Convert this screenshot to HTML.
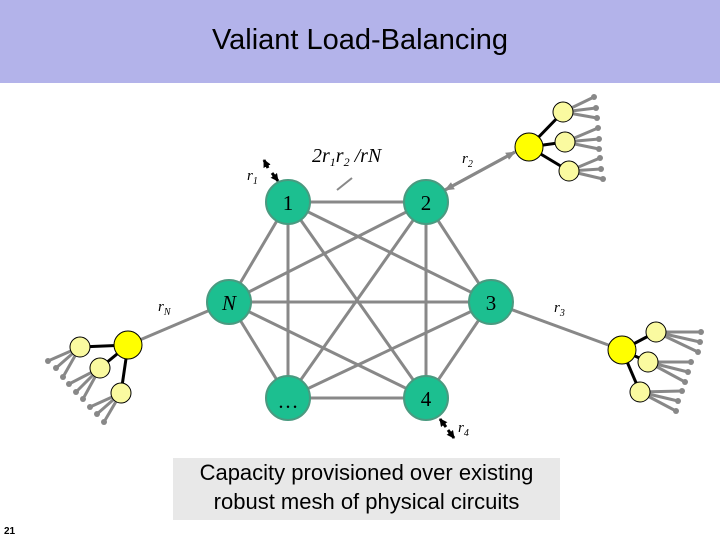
<!DOCTYPE html>
<html><head><meta charset="utf-8"><style>
body{margin:0;width:720px;height:540px;background:#fff;overflow:hidden;position:relative;font-family:"Liberation Sans",sans-serif}
.t{position:absolute;left:0;top:0;width:720px;height:83px;background:#b3b3ea}
.t div{position:absolute;width:720px;top:24px;text-align:center;font-size:29px;color:#000}
.cap{position:absolute;left:173px;top:458px;width:387px;height:62px;background:#e8e8e8;font-size:22px;text-align:center;line-height:29px;color:#000}
.pn{position:absolute;left:4px;top:526px;font-size:10px;font-weight:bold}
</style></head><body>
<div class="t"><div>Valiant Load-Balancing</div></div>
<svg width="720" height="540" style="position:absolute;left:0;top:0">
<defs><marker id="a" markerWidth="8" markerHeight="8" refX="7" refY="4" orient="auto" markerUnits="userSpaceOnUse"><path d="M0,0 L8,4 L0,8z" fill="#000"/></marker>
<marker id="g" markerWidth="10" markerHeight="8" refX="9" refY="4" orient="auto" markerUnits="userSpaceOnUse"><path d="M0,0 L10,4 L0,8z" fill="#888"/></marker></defs>
<g stroke="#888" stroke-width="3" fill="none">
<line x1="288" y1="202" x2="426" y2="202"/><line x1="288" y1="202" x2="229" y2="302"/><line x1="288" y1="202" x2="491" y2="302"/><line x1="288" y1="202" x2="288" y2="398"/><line x1="288" y1="202" x2="426" y2="398"/>
<line x1="426" y1="202" x2="229" y2="302"/><line x1="426" y1="202" x2="491" y2="302"/><line x1="426" y1="202" x2="288" y2="398"/><line x1="426" y1="202" x2="426" y2="398"/>
<line x1="229" y1="302" x2="491" y2="302"/><line x1="229" y1="302" x2="288" y2="398"/><line x1="229" y1="302" x2="426" y2="398"/>
<line x1="491" y1="302" x2="288" y2="398"/><line x1="491" y1="302" x2="426" y2="398"/><line x1="288" y1="398" x2="426" y2="398"/>
<line x1="491" y1="302" x2="622" y2="350"/><line x1="229" y1="302" x2="128" y2="345"/>
<line x1="515" y1="152" x2="445" y2="190" marker-end="url(#g)"/>
<line x1="445" y1="190" x2="515" y2="152" marker-end="url(#g)"/>
</g>
<line x1="337" y1="190" x2="352" y2="178" stroke="#888" stroke-width="2"/>
<line x1="268" y1="168" x2="264" y2="160" stroke="#000" stroke-width="3" marker-end="url(#a)"/>
<line x1="272" y1="173" x2="278" y2="181" stroke="#000" stroke-width="3" marker-end="url(#a)"/>
<line x1="446" y1="427" x2="440" y2="419" stroke="#000" stroke-width="3" marker-end="url(#a)"/>
<line x1="448" y1="430" x2="454" y2="438" stroke="#000" stroke-width="3" marker-end="url(#a)"/>
<g stroke="#888" stroke-width="3">
<line x1="563" y1="112" x2="594" y2="97"/><line x1="563" y1="112" x2="596" y2="108"/><line x1="563" y1="112" x2="597" y2="118"/>
<line x1="565" y1="142" x2="598" y2="128"/><line x1="565" y1="142" x2="599" y2="139"/><line x1="565" y1="142" x2="599" y2="149"/>
<line x1="569" y1="171" x2="600" y2="158"/><line x1="569" y1="171" x2="601" y2="169"/><line x1="569" y1="171" x2="603" y2="179"/>
<line x1="656" y1="332" x2="701" y2="332"/><line x1="656" y1="332" x2="700" y2="342"/><line x1="656" y1="332" x2="698" y2="352"/>
<line x1="648" y1="362" x2="691" y2="362"/><line x1="648" y1="362" x2="688" y2="372"/><line x1="648" y1="362" x2="685" y2="382"/>
<line x1="640" y1="392" x2="682" y2="391"/><line x1="640" y1="392" x2="678" y2="401"/><line x1="640" y1="392" x2="676" y2="411"/>
<line x1="80" y1="347" x2="48" y2="361"/><line x1="80" y1="347" x2="56" y2="368"/><line x1="80" y1="347" x2="63" y2="377"/>
<line x1="100" y1="368" x2="69" y2="384"/><line x1="100" y1="368" x2="76" y2="392"/><line x1="100" y1="368" x2="83" y2="399"/>
<line x1="121" y1="393" x2="90" y2="407"/><line x1="121" y1="393" x2="97" y2="414"/><line x1="121" y1="393" x2="104" y2="422"/>
</g>
<g fill="#888">
<circle cx="594" cy="97" r="3"/><circle cx="596" cy="108" r="3"/><circle cx="597" cy="118" r="3"/><circle cx="598" cy="128" r="3"/><circle cx="599" cy="139" r="3"/><circle cx="599" cy="149" r="3"/><circle cx="600" cy="158" r="3"/><circle cx="601" cy="169" r="3"/><circle cx="603" cy="179" r="3"/>
<circle cx="701" cy="332" r="3"/><circle cx="700" cy="342" r="3"/><circle cx="698" cy="352" r="3"/><circle cx="691" cy="362" r="3"/><circle cx="688" cy="372" r="3"/><circle cx="685" cy="382" r="3"/><circle cx="682" cy="391" r="3"/><circle cx="678" cy="401" r="3"/><circle cx="676" cy="411" r="3"/>
<circle cx="48" cy="361" r="3"/><circle cx="56" cy="368" r="3"/><circle cx="63" cy="377" r="3"/><circle cx="69" cy="384" r="3"/><circle cx="76" cy="392" r="3"/><circle cx="83" cy="399" r="3"/><circle cx="90" cy="407" r="3"/><circle cx="97" cy="414" r="3"/><circle cx="104" cy="422" r="3"/>
</g>
<g stroke="#000" stroke-width="3">
<line x1="529" y1="147" x2="563" y2="112"/><line x1="529" y1="147" x2="565" y2="142"/><line x1="529" y1="147" x2="569" y2="171"/>
<line x1="622" y1="350" x2="656" y2="332"/><line x1="622" y1="350" x2="648" y2="362"/><line x1="622" y1="350" x2="640" y2="392"/>
<line x1="128" y1="345" x2="80" y2="347"/><line x1="128" y1="345" x2="100" y2="368"/><line x1="128" y1="345" x2="121" y2="393"/>
</g>
<g fill="#fafaa0" stroke="#000" stroke-width="1">
<circle cx="563" cy="112" r="10"/><circle cx="565" cy="142" r="10"/><circle cx="569" cy="171" r="10"/>
<circle cx="656" cy="332" r="10"/><circle cx="648" cy="362" r="10"/><circle cx="640" cy="392" r="10"/>
<circle cx="80" cy="347" r="10"/><circle cx="100" cy="368" r="10"/><circle cx="121" cy="393" r="10"/>
</g>
<g fill="#ffff00" stroke="#000" stroke-width="1">
<circle cx="529" cy="147" r="14"/><circle cx="622" cy="350" r="14"/><circle cx="128" cy="345" r="14"/>
</g>
<g fill="#1cbf90" stroke="#4a9a80" stroke-width="2">
<circle cx="288" cy="202" r="22"/><circle cx="426" cy="202" r="22"/><circle cx="229" cy="302" r="22"/><circle cx="491" cy="302" r="22"/><circle cx="288" cy="398" r="22"/><circle cx="426" cy="398" r="22"/>
</g>
<g font-family="Liberation Serif,serif" font-size="21" text-anchor="middle" fill="#000">
<text x="288" y="210">1</text><text x="426" y="210">2</text><text x="229" y="310" font-style="italic">N</text><text x="491" y="310">3</text><text x="288" y="408">…</text><text x="426" y="406">4</text>
</g>
<g font-family="Liberation Serif,serif" font-style="italic" fill="#000">
<text x="312" y="162" font-size="20">2r<tspan font-size="12" dy="4">1</tspan><tspan dy="-4">r</tspan><tspan font-size="12" dy="4">2</tspan><tspan dy="-4"> /rN</tspan></text>
<text x="247" y="180" font-size="15">r<tspan font-size="10" dy="4">1</tspan></text>
<text x="462" y="163" font-size="15">r<tspan font-size="10" dy="4">2</tspan></text>
<text x="554" y="312" font-size="15">r<tspan font-size="10" dy="4">3</tspan></text>
<text x="458" y="432" font-size="15">r<tspan font-size="10" dy="4">4</tspan></text>
<text x="158" y="311" font-size="15">r<tspan font-size="10" dy="4">N</tspan></text>
</g>
</svg>
<div class="cap">Capacity provisioned over existing<br>robust mesh of physical circuits</div>
<div class="pn">21</div>
</body></html>
